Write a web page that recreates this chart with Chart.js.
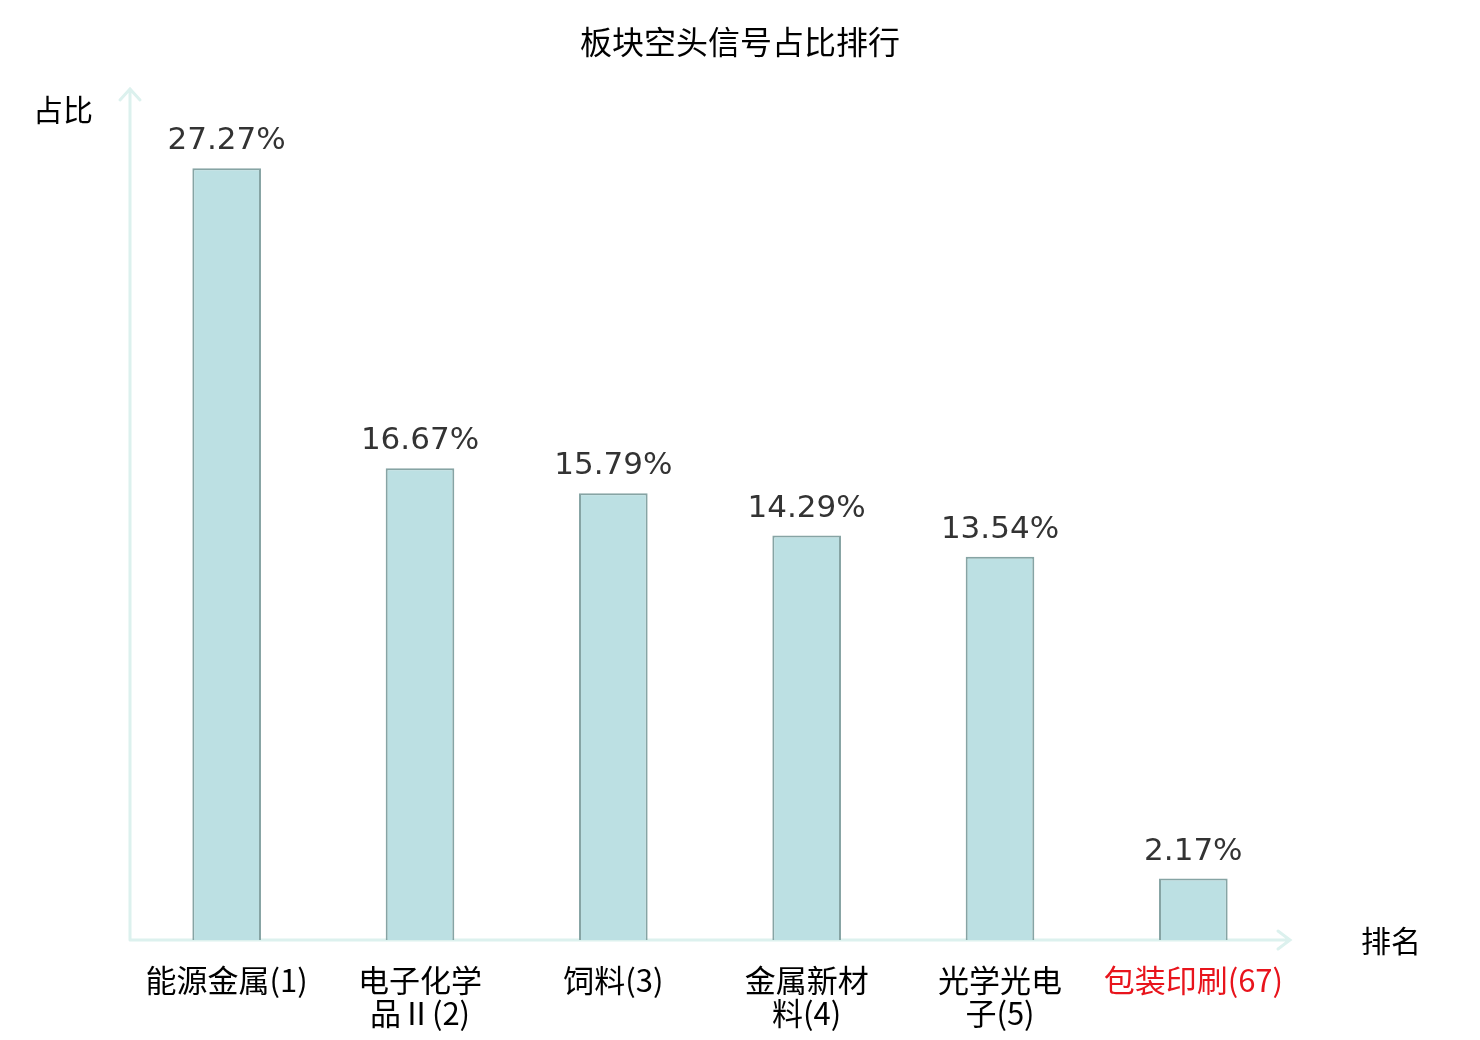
<!DOCTYPE html>
<html>
<head>
<meta charset="utf-8">
<script src="https://cdn.jsdelivr.net/npm/chart.js@4/dist/chart.umd.min.js"></script>
<style>
  html, body { margin: 0; padding: 0; background: #fff; }
  #wrap { width: 1480px; height: 1040px; }
</style>
</head>
<body>
<div id="wrap"><canvas id="rankChart" width="1480" height="1040"></canvas></div>
<script>
// chart data
const chartTitle = '板块空头信号占比排行';
const categories = [
    ['能源金属(1)'],
    ['电子化学', '品Ⅱ(2)'],
    ['饲料(3)'],
    ['金属新材', '料(4)'],
    ['光学光电', '子(5)'],
    ['包装印刷(67)']
];
const shareValues = [27.27, 16.67, 15.79, 14.29, 13.54, 2.17];
const highlightIndex = 5;
const yAxisName = '占比';
const xAxisName = '排名';

const cjkFont = '"Noto Sans CJK SC", "Noto Sans", sans-serif';
const axisColor = '#dcf1ee';

// draws the arrowed axes, axis names, title and value labels
const decorPlugin = {
    id: 'decor',
    beforeDatasetsDraw(chart) {
        const { ctx, chartArea } = chart;
        const left = chartArea.left, bottom = chartArea.bottom;
        ctx.save();
        ctx.strokeStyle = axisColor;
        ctx.lineWidth = 3;
        ctx.lineCap = 'round';
        ctx.beginPath();
        ctx.moveTo(left, bottom);
        ctx.lineTo(left, chartArea.top - 2);
        ctx.moveTo(left - 10, chartArea.top + 9);
        ctx.lineTo(left, chartArea.top - 2);
        ctx.lineTo(left + 10, chartArea.top + 9);
        ctx.moveTo(left, bottom);
        ctx.lineTo(chartArea.right, bottom);
        ctx.moveTo(chartArea.right - 12, bottom - 9);
        ctx.lineTo(chartArea.right, bottom);
        ctx.lineTo(chartArea.right - 12, bottom + 9);
        ctx.stroke();
        ctx.restore();
    },
    afterDatasetsDraw(chart) {
        const { ctx } = chart;
        ctx.save();
        ctx.fillStyle = '#000';
        ctx.textBaseline = 'middle';
        ctx.textAlign = 'center';
        ctx.font = '32px ' + cjkFont;
        ctx.fillText(chartTitle, chart.width / 2, 42);
        ctx.font = '30px ' + cjkFont;
        ctx.fillText(yAxisName, 63, 110);
        ctx.fillText(xAxisName, 1391, 941);

        ctx.fillStyle = '#333';
        ctx.font = '31px "DejaVu Sans", sans-serif';
        ctx.textBaseline = 'alphabetic';
        const meta = chart.getDatasetMeta(0);
        meta.data.forEach((bar, i) => {
            ctx.fillText(shareValues[i].toFixed(2) + '%', bar.x, bar.y - 19);
        });
        ctx.restore();
    }
};

new Chart(document.getElementById('rankChart'), {
    type: 'bar',
    data: {
        labels: categories,
        datasets: [{
            data: shareValues,
            backgroundColor: '#bce0e3',
            borderColor: '#86a4a4',
            borderWidth: 2,
            borderSkipped: 'bottom',
            barPercentage: 0.355,
            categoryPercentage: 1.0
        }]
    },
    options: {
        responsive: false,
        animation: false,
        devicePixelRatio: 1,
        layout: {
            padding: { left: 130, right: 190, top: 91, bottom: 0 }
        },
        scales: {
            x: {
                grid: { display: false },
                border: { display: false },
                afterFit(scale) { scale.height = 100; },
                ticks: {
                    maxRotation: 0,
                    autoSkip: false,
                    padding: 16,
                    font: { size: 31, family: cjkFont, lineHeight: 1.05 },
                    color: ctx => ctx.index === highlightIndex ? '#e8141c' : '#000'
                }
            },
            y: {
                display: false,
                min: 0,
                max: 30
            }
        },
        plugins: {
            legend: { display: false },
            title: { display: false },
            tooltip: { enabled: false }
        }
    },
    plugins: [decorPlugin]
});
</script>
</body>
</html>
